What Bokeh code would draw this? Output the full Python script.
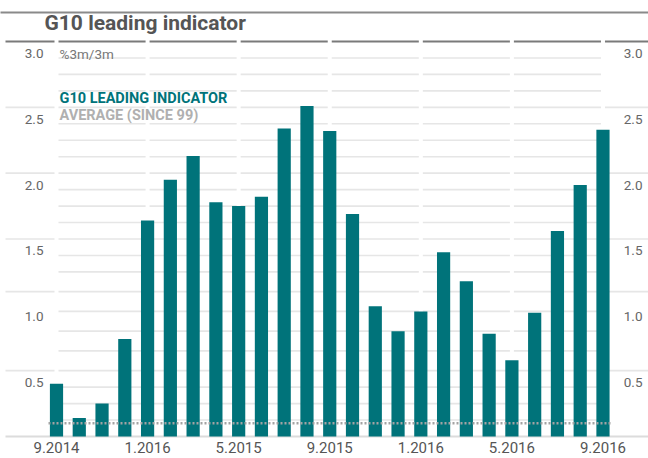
from bokeh.plotting import figure
from bokeh.models import ColumnDataSource
from bokeh.core.properties import value
from bokeh.embed import file_html
from bokeh.resources import INLINE

# ---------------- data ----------------
months = ["9.2014", "10.2014", "11.2014", "12.2014", "1.2015", "2.2015", "3.2015",
          "4.2015", "5.2015", "6.2015", "7.2015", "8.2015", "9.2015", "10.2015",
          "11.2015", "12.2015", "1.2016", "2.2016", "3.2016", "4.2016", "5.2016",
          "6.2016", "7.2016", "8.2016", "9.2016"]
leading = [0.40, 0.14, 0.25, 0.74, 1.64, 1.95, 2.13, 1.78, 1.75, 1.82, 2.34, 2.51,
           2.32, 1.69, 0.99, 0.80, 0.95, 1.40, 1.18, 0.78, 0.58, 0.94, 1.56, 1.91, 2.33]
average_since_99 = 0.10
x_tick_index = [0, 4, 8, 12, 16, 20, 24]
x_tick_labels = ["9.2014", "1.2016", "5.2015", "9.2015", "1.2016", "5.2016", "9.2016"]
y_tick_values = [0.5, 1.0, 1.5, 2.0, 2.5, 3.0]
y_tick_labels = ["0.5", "1.0", "1.5", "2.0", "2.5", "3.0"]

title_text = "G10 leading indicator"
unit_text = "%3m/3m"
legend_main = "G10 LEADING INDICATOR"
legend_avg = "AVERAGE (SINCE 99)"

# ---------------- geometry / style ----------------
W, H = 648, 458
SX = 22.77          # px per bar step
SY = 131.67         # px per unit
X_PX0 = 56          # canvas px of bar 0
Y_PX0 = 436         # canvas px of value 0

def rx(xpx):
    return (xpx - X_PX0) / SX

def ry(ypx):
    return (Y_PX0 - ypx) / SY

BAR = "#00737a"
GRID = "#e6e6e6"
FONT = value("Roboto")

p = figure(width=W, height=H, output_backend="svg", toolbar_location=None,
           x_range=(rx(0), rx(W)), y_range=(ry(H), ry(0)),
           x_axis_type=None, y_axis_type=None,
           min_border=0, min_border_left=0, min_border_right=0,
           min_border_top=0, min_border_bottom=0)
p.outline_line_color = None
p.xgrid.visible = False
p.ygrid.visible = False
p.background_fill_color = "white"

# ---- ruled background (decoration) ----
gap = 2.0 / SX
panels = [(x_tick_index[i] + gap, x_tick_index[i + 1] - gap) for i in range(len(x_tick_index) - 1)]
left_col = (rx(5), x_tick_index[0] - gap)
right_col = (x_tick_index[-1] + gap, rx(700))
rule_levels = [0.125, 0.25, 0.375, 0.5, 0.65, 0.8, 0.95, 1.1, 1.25, 1.375, 1.5, 1.625,
               1.75, 1.875, 2.0, 2.125, 2.25, 2.375, 2.5, 2.625, 2.75, 2.875]
side_levels = [0.5, 1.1, 1.5, 2.0, 2.5]

x0s, x1s, ys = [], [], []
for lv in rule_levels:
    for a, b in panels:
        x0s.append(a); x1s.append(b); ys.append(lv)
for lv in side_levels:
    for a, b in (left_col, right_col):
        x0s.append(a); x1s.append(b); ys.append(lv)
p.segment(x0=x0s, y0=ys, x1=x1s, y1=ys, line_color=GRID, line_width=1.6)

# top (3.0) dark rule, segmented
tx0, tx1, ty = [], [], []
for a, b in [left_col] + panels + [right_col]:
    tx0.append(a); tx1.append(b); ty.append(3.0)
p.segment(x0=tx0, y0=ty, x1=tx1, y1=ty, line_color="#7a7a7a", line_width=2.2)

# baseline
p.segment(x0=[rx(5)], y0=[0], x1=[rx(700)], y1=[0], line_color="#dcdcdc", line_width=2)

# title rule
p.segment(x0=[rx(-20)], y0=[ry(12)], x1=[rx(700)], y1=[ry(12)], line_color="#8a8a8a", line_width=2)

# ---- bars ----
src = ColumnDataSource(dict(x=list(range(len(months))), top=leading, month=months))
p.vbar(x="x", top="top", bottom=0, width=13.2 / SX, source=src,
       fill_color=BAR, line_color=None)

# ---- average dotted line ----
p.line(x=[rx(48), rx(610)], y=[average_since_99, average_since_99],
       line_color="#a3a3a3", line_width=2.5, line_dash="2 2")

# ---- texts ----
p.text(x=[rx(44)], y=[ry(22)], text=[title_text], text_font=FONT, text_font_style="bold",
       text_font_size="21px", text_color="#555555", text_align="left", text_baseline="middle")
p.text(x=[rx(59)], y=[ry(53)], text=[unit_text], text_font=FONT,
       text_font_size="13.5px", text_color="#777777", text_align="left", text_baseline="middle")
p.text(x=[rx(59)], y=[ry(98)], text=[legend_main], text_font=FONT, text_font_style="bold",
       text_font_size="14.5px", text_color=BAR, text_align="left", text_baseline="middle")
p.text(x=[rx(59)], y=[ry(115)], text=[legend_avg], text_font=FONT, text_font_style="bold",
       text_font_size="14.5px", text_color="#b0b0b0", text_align="left", text_baseline="middle")

# y tick labels (left and right), placed just below their value line
lab_off = 12.0 / SY
p.text(x=[rx(43)] * len(y_tick_values), y=[v - lab_off for v in y_tick_values], text=y_tick_labels,
       text_font=FONT, text_font_size="13.5px", text_color="#666666",
       text_align="right", text_baseline="middle")
p.text(x=[rx(642)] * len(y_tick_values), y=[v - lab_off for v in y_tick_values], text=y_tick_labels,
       text_font=FONT, text_font_size="13.5px", text_color="#666666",
       text_align="right", text_baseline="middle")

# x tick labels
p.text(x=x_tick_index, y=[ry(447)] * len(x_tick_index), text=x_tick_labels,
       text_font=FONT, text_font_size="15px", text_color="#555555",
       text_align="center", text_baseline="middle")

open("out.html", "w").write(file_html(p, INLINE))
